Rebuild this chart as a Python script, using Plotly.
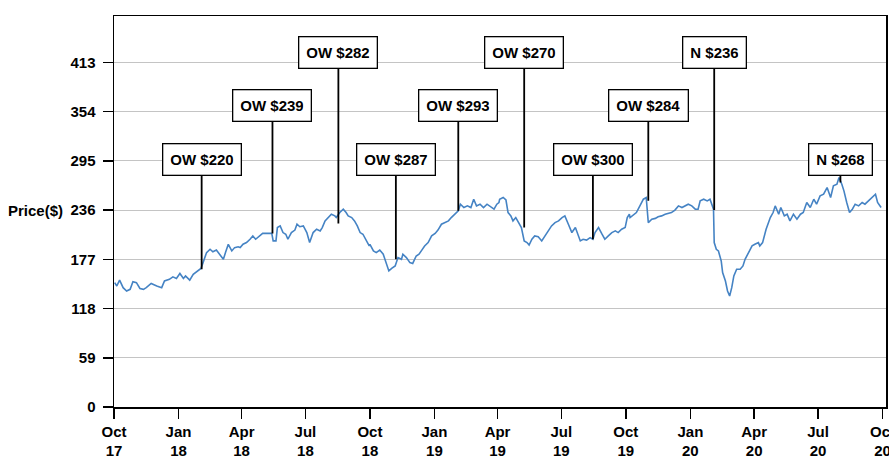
import plotly.graph_objects as go

# ---- data ----
dates = [
    "2017-10-02", "2017-10-05", "2017-10-09", "2017-10-14", "2017-10-19", "2017-10-24", "2017-10-28",
    "2017-11-02", "2017-11-07", "2017-11-12", "2017-11-16", "2017-11-23", "2017-12-01", "2017-12-08",
    "2017-12-12", "2017-12-19", "2017-12-24", "2017-12-29", "2018-01-03", "2018-01-08", "2018-01-11",
    "2018-01-17", "2018-01-22", "2018-01-28", "2018-02-02", "2018-02-05", "2018-02-10", "2018-02-15",
    "2018-02-19", "2018-02-24", "2018-03-01", "2018-03-06", "2018-03-09", "2018-03-13", "2018-03-18",
    "2018-03-22", "2018-03-27",
    "2018-03-30", "2018-04-03", "2018-04-08", "2018-04-13", "2018-04-17", "2018-04-21", "2018-04-26",
    "2018-05-01", "2018-05-06", "2018-05-14", "2018-05-16", "2018-05-20", "2018-05-22", "2018-05-26",
    "2018-05-30", "2018-06-03", "2018-06-06", "2018-06-11", "2018-06-16", "2018-06-19", "2018-06-23",
    "2018-06-28", "2018-07-03", "2018-07-07", "2018-07-12", "2018-07-17", "2018-07-22", "2018-07-25",
    "2018-07-29", "2018-08-02", "2018-08-07", "2018-08-12", "2018-08-14", "2018-08-19", "2018-08-24",
    "2018-08-28", "2018-08-31", "2018-09-05", "2018-09-09", "2018-09-13", "2018-09-17", "2018-09-21",
    "2018-09-26", "2018-09-30",
    "2018-10-01", "2018-10-06", "2018-10-10", "2018-10-15", "2018-10-20", "2018-10-25", "2018-10-28",
    "2018-11-01", "2018-11-06", "2018-11-10", "2018-11-15", "2018-11-17", "2018-11-22", "2018-11-27",
    "2018-12-01", "2018-12-06", "2018-12-10", "2018-12-14", "2018-12-18", "2018-12-23", "2018-12-28",
    "2019-01-02", "2019-01-06", "2019-01-11", "2019-01-16", "2019-01-21", "2019-01-25", "2019-01-30",
    "2019-02-04", "2019-02-07", "2019-02-12", "2019-02-17", "2019-02-22", "2019-02-26", "2019-03-02",
    "2019-03-07", "2019-03-12", "2019-03-17", "2019-03-21", "2019-03-27", "2019-03-31", "2019-04-03",
    "2019-04-04", "2019-04-09", "2019-04-13", "2019-04-16", "2019-04-20", "2019-04-23", "2019-04-27",
    "2019-05-01", "2019-05-05", "2019-05-09", "2019-05-13", "2019-05-16", "2019-05-20", "2019-05-24",
    "2019-05-29", "2019-06-03", "2019-06-08", "2019-06-12", "2019-06-17", "2019-06-22", "2019-06-27",
    "2019-07-02", "2019-07-06", "2019-07-11", "2019-07-16", "2019-07-21", "2019-07-24", "2019-07-28",
    "2019-08-01", "2019-08-06", "2019-08-11", "2019-08-15", "2019-08-18", "2019-08-23", "2019-08-28",
    "2019-09-01", "2019-09-06", "2019-09-11", "2019-09-16", "2019-09-20", "2019-09-25", "2019-09-30",
    "2019-10-03", "2019-10-06",
    "2019-10-07", "2019-10-12", "2019-10-16", "2019-10-21", "2019-10-26", "2019-10-30", "2019-11-02",
    "2019-11-07", "2019-11-12", "2019-11-16", "2019-11-21", "2019-11-26", "2019-12-01", "2019-12-05",
    "2019-12-10", "2019-12-15", "2019-12-20", "2019-12-24", "2019-12-29", "2020-01-03", "2020-01-08",
    "2020-01-12", "2020-01-15", "2020-01-20", "2020-01-25", "2020-01-29", "2020-02-02", "2020-02-03",
    "2020-02-04", "2020-02-07", "2020-02-10", "2020-02-14", "2020-02-16", "2020-02-20", "2020-02-23",
    "2020-02-26", "2020-02-29", "2020-03-03", "2020-03-07", "2020-03-12", "2020-03-16", "2020-03-19",
    "2020-03-24", "2020-03-29", "2020-04-02", "2020-04-07",
    "2020-04-09", "2020-04-13", "2020-04-18", "2020-04-24", "2020-04-28", "2020-05-01", "2020-05-06",
    "2020-05-09", "2020-05-14", "2020-05-18", "2020-05-22", "2020-05-27", "2020-06-01", "2020-06-06",
    "2020-06-10", "2020-06-15", "2020-06-20", "2020-06-25", "2020-06-29", "2020-07-04", "2020-07-09",
    "2020-07-14", "2020-07-19", "2020-07-23", "2020-07-28", "2020-07-31", "2020-08-04", "2020-08-07",
    "2020-08-11", "2020-08-15", "2020-08-19", "2020-08-23", "2020-08-28", "2020-09-02", "2020-09-06",
    "2020-09-11", "2020-09-16", "2020-09-21", "2020-09-24", "2020-09-29",
]

prices = [
    149, 145, 152, 143, 139, 141, 150,
    149, 142, 141, 143, 148, 145, 143,
    151, 153, 156, 154, 160, 154, 157,
    152, 159, 163, 166, 173, 185, 189,
    186, 188, 183, 177, 185, 195, 187,
    191, 192,
    191, 195, 197, 201, 205, 201, 204,
    208, 208, 208, 199, 199, 215, 217,
    209, 207, 201, 209, 212, 219, 216,
    217, 209, 197, 209, 213, 211, 215,
    223, 227, 231, 229, 227, 233, 237,
    233, 229, 227, 223, 217, 209, 207,
    199, 193,
    195, 187, 185, 188, 183, 171, 163,
    166, 169, 179, 177, 183, 179, 173,
    172, 181, 183, 188, 193, 197, 205,
    208, 212, 219, 221, 223, 227, 231,
    235, 243, 239, 241, 239, 249, 241,
    243, 239, 243, 241, 237, 243, 245,
    249, 251, 248, 233, 229, 223, 227,
    221, 215, 199, 197, 194, 201, 205,
    204, 199, 205, 211, 217, 221, 223,
    227, 229, 219, 209, 215, 209, 199,
    201, 200, 203, 201, 209, 215, 207,
    201, 205, 209, 211, 209, 213, 215,
    227, 231,
    227, 231, 233, 241, 249, 251, 221,
    225, 226, 228, 229, 231, 232, 233,
    236, 241, 239, 241, 243, 241, 237,
    237, 247, 249, 247, 249, 237, 237,
    197, 189, 187, 175, 161, 151, 139,
    133, 143, 157, 165, 165, 169, 177,
    185, 193, 195, 197,
    193, 197, 213, 227, 233, 241, 231,
    239, 229, 231, 223, 231, 225, 231,
    233, 245, 239, 249, 243, 253, 255,
    263, 251, 265, 267, 275, 267, 259,
    245, 233, 237, 243, 241, 245, 243,
    247, 251, 255, 245, 239,
]

rating_dates = ["2018-02-03", "2018-05-15", "2018-08-17", "2018-11-07", "2019-02-04",
                "2019-05-09", "2019-08-15", "2019-11-02", "2020-02-04", "2020-08-02"]
rating_labels = ["OW $220", "OW $239", "OW $282", "OW $287", "OW $293",
                 "OW $270", "OW $300", "OW $284", "N $236", "N $268"]
rating_prices = [165, 208, 220, 177, 235, 215, 201, 247, 236, 269]

y_ticks = [0, 59, 118, 177, 236, 295, 354, 413]
x_tick_dates = ["2017-10-01", "2018-01-01", "2018-04-01", "2018-07-01", "2018-10-01",
                "2019-01-01", "2019-04-01", "2019-07-01", "2019-10-01", "2020-01-01",
                "2020-04-01", "2020-07-01", "2020-10-01"]
x_tick_text = ["Oct<br>17", "Jan<br>18", "Apr<br>18", "Jul<br>18", "Oct<br>18", "Jan<br>19",
               "Apr<br>19", "Jul<br>19", "Oct<br>19", "Jan<br>20", "Apr<br>20", "Jul<br>20",
               "Oct<br>20"]

# ---- layout constants ----
FONT = dict(family="Liberation Sans, Arial, sans-serif", size=15, color="black", weight="bold")
tier_levels = [296, 361, 425]  # box centre heights (in axis units) for the three label tiers

fig = go.Figure()
fig.add_trace(go.Scatter(
    x=dates, y=prices, mode="lines",
    line=dict(color="#4583c4", width=1.6),
    hoverinfo="skip", showlegend=False,
))

annotations = []
for i, (d, lab, p) in enumerate(zip(rating_dates, rating_labels, rating_prices)):
    annotations.append(dict(
        x=d, y=p, xref="x", yref="y",
        ax=d, ay=tier_levels[i % 3], axref="x", ayref="y",
        text=lab, showarrow=True, arrowhead=0, arrowwidth=1.8, arrowcolor="black",
        standoff=0, startstandoff=0,
        bgcolor="white", bordercolor="black", borderwidth=1.3, borderpad=7,
        height=16, font=FONT,
    ))

annotations.append(dict(
    x=-0.0635, y=236, xref="paper", yref="y", xanchor="right", yanchor="middle",
    text="Price($)", showarrow=False, font=FONT,
))

fig.update_layout(
    width=889, height=457,
    margin=dict(l=114, r=3, t=16, b=50, autoexpand=False),
    paper_bgcolor="white", plot_bgcolor="white",
    font=FONT,
    showlegend=False,
    annotations=annotations,
    xaxis=dict(
        type="date", automargin=False,
        range=["2017-10-01", "2020-10-06"],
        tickvals=x_tick_dates, ticktext=x_tick_text,
        ticks="outside", ticklen=10, tickwidth=1.5, tickcolor="black",
        showline=True, linecolor="black", linewidth=1.5, mirror=True,
        showgrid=False, zeroline=False,
        tickfont=FONT, ticklabeloverflow="allow", ticklabelstandoff=0,
    ),
    yaxis=dict(
        automargin=False,
        range=[0, 468.5],
        tickvals=y_ticks, ticktext=[str(v) for v in y_ticks],
        ticks="outside", ticklen=10, tickwidth=1.5, tickcolor="black",
        showline=True, linecolor="black", linewidth=1.5, mirror=True,
        showgrid=True, gridcolor="#c4c4c4", gridwidth=1, zeroline=False,
        tickfont=FONT, ticklabelstandoff=4,
    ),
)

fig.write_html(
    "out.html",
    config={"displayModeBar": False, "staticPlot": True},
    post_script="document.body.style.margin='0';document.body.style.overflow='hidden';",
)
